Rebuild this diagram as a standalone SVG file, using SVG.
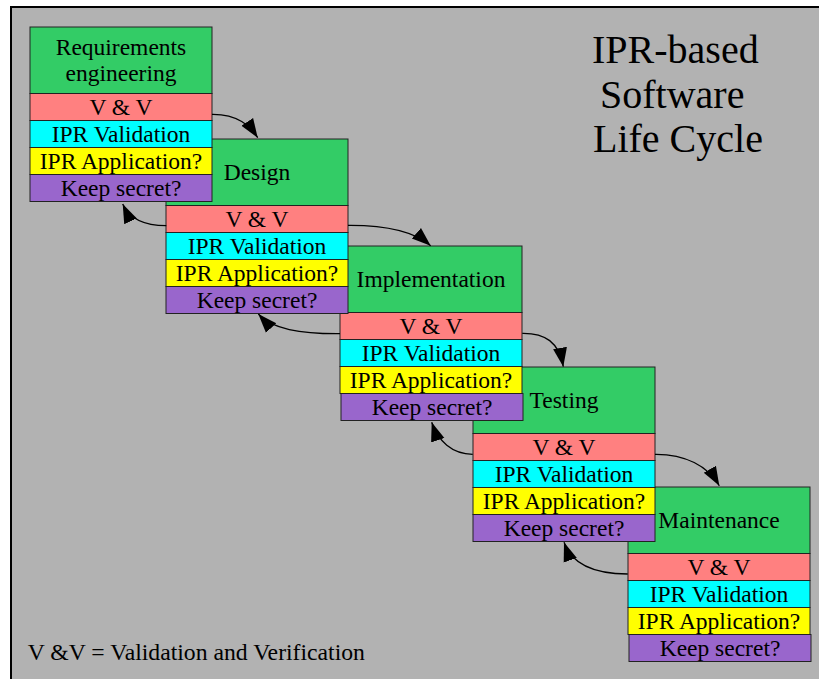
<svg xmlns="http://www.w3.org/2000/svg" width="819" height="679" viewBox="0 0 819 679">
<style>
  text { font-family: "Liberation Serif", "Times New Roman", serif; fill: #000; }
  .lbl { font-size: 23.5px; text-anchor: middle; }
  .title { font-size: 40px; }
  .note { font-size: 23.7px; }
  .box { stroke: #222; stroke-width: 1; }
  .g { fill: #33CC66; }
  .vv { fill: #FF8080; }
  .ipv { fill: #00FFFF; }
  .ipa { fill: #FFFF00; }
  .ks { fill: #9966CC; }
  .conn { fill: none; stroke: #000; stroke-width: 1.3; marker-end: url(#ah); }
</style>
<defs>
  <marker id="ah" markerUnits="userSpaceOnUse" markerWidth="20" markerHeight="16" viewBox="0 0 20 16" refX="19" refY="8" orient="auto">
    <path d="M0,1 L19,8 L0,15 Z" fill="#000"/>
  </marker>
</defs>
<rect x="0" y="0" width="819" height="679" fill="#fff"/>
<rect id="frame" x="11" y="7" width="830" height="700" fill="#B2B2B2" stroke="#000" stroke-width="2"/>

<g id="stage-maintenance" transform="translate(628,487)">
  <rect class="box g" x="0" y="0" width="182" height="66.5"/>
  <rect class="box vv" x="0" y="66.5" width="182" height="27"/>
  <rect class="box ipv" x="0" y="93.5" width="182" height="27"/>
  <rect class="box ipa" x="0" y="120.5" width="182" height="27"/>
  <rect class="box ks" x="1" y="147.5" width="182" height="27"/>
  <text class="lbl" x="91" y="40.5">Maintenance</text>
  <text class="lbl" x="91" y="87.5">V &amp; V</text>
  <text class="lbl" x="91" y="114.5">IPR Validation</text>
  <text class="lbl" x="91" y="141.5">IPR Application?</text>
  <text class="lbl" x="92" y="168.5">Keep secret?</text>
</g>

<g id="stage-testing" transform="translate(473,367)">
  <rect class="box g" x="0" y="0" width="182" height="66.5"/>
  <rect class="box vv" x="0" y="66.5" width="182" height="27"/>
  <rect class="box ipv" x="0" y="93.5" width="182" height="27"/>
  <rect class="box ipa" x="0" y="120.5" width="182" height="27"/>
  <rect class="box ks" x="0" y="147.5" width="182" height="27"/>
  <text class="lbl" x="91" y="40.5">Testing</text>
  <text class="lbl" x="91" y="87.5">V &amp; V</text>
  <text class="lbl" x="91" y="114.5">IPR Validation</text>
  <text class="lbl" x="91" y="141.5">IPR Application?</text>
  <text class="lbl" x="91" y="168.5">Keep secret?</text>
</g>

<g id="stage-implementation" transform="translate(340,246)">
  <rect class="box g" x="0" y="0" width="182" height="66.5"/>
  <rect class="box vv" x="0" y="66.5" width="182" height="27"/>
  <rect class="box ipv" x="0" y="93.5" width="182" height="27"/>
  <rect class="box ipa" x="0" y="120.5" width="182" height="27"/>
  <rect class="box ks" x="1" y="147.5" width="182" height="27"/>
  <text class="lbl" x="91" y="40.5">Implementation</text>
  <text class="lbl" x="91" y="87.5">V &amp; V</text>
  <text class="lbl" x="91" y="114.5">IPR Validation</text>
  <text class="lbl" x="91" y="141.5">IPR Application?</text>
  <text class="lbl" x="92" y="168.5">Keep secret?</text>
</g>

<g id="stage-design" transform="translate(166,139)">
  <rect class="box g" x="0" y="0" width="182" height="66.5"/>
  <rect class="box vv" x="0" y="66.5" width="182" height="27"/>
  <rect class="box ipv" x="0" y="93.5" width="182" height="27"/>
  <rect class="box ipa" x="0" y="120.5" width="182" height="27"/>
  <rect class="box ks" x="0" y="147.5" width="182" height="27"/>
  <text class="lbl" x="91" y="40.5">Design</text>
  <text class="lbl" x="91" y="87.5">V &amp; V</text>
  <text class="lbl" x="91" y="114.5">IPR Validation</text>
  <text class="lbl" x="91" y="141.5">IPR Application?</text>
  <text class="lbl" x="91" y="168.5">Keep secret?</text>
</g>

<g id="stage-requirements" transform="translate(30,27)">
  <rect class="box g" x="0" y="0" width="182" height="66.5"/>
  <rect class="box vv" x="0" y="66.5" width="182" height="27"/>
  <rect class="box ipv" x="0" y="93.5" width="182" height="27"/>
  <rect class="box ipa" x="0" y="120.5" width="182" height="27"/>
  <rect class="box ks" x="0" y="147.5" width="182" height="27"/>
  <text class="lbl" x="91" y="27.5">Requirements</text>
  <text class="lbl" x="91" y="54">engineering</text>
  <text class="lbl" x="91" y="87.5">V &amp; V</text>
  <text class="lbl" x="91" y="114.5">IPR Validation</text>
  <text class="lbl" x="91" y="141.5">IPR Application?</text>
  <text class="lbl" x="91" y="168.5">Keep secret?</text>
</g>

<g id="connectors">
  <path class="conn" d="M212,114.3 C238,114 250,126 257.7,137.7"/>
  <path class="conn" d="M348,225.3 C390,225 415,232 430.7,245.7"/>
  <path class="conn" d="M522.3,333.3 C545,333 559,342 563.3,366.7"/>
  <path class="conn" d="M655,454.3 C685,454 708,466 719.3,485.7"/>
  <path class="conn" d="M166.3,225.7 C145,225.7 130,220 122.7,204"/>
  <path class="conn" d="M340,333.7 C300,334 272,329 258.3,314"/>
  <path class="conn" d="M472.7,454.3 C452,454 438,441 431.7,422.3"/>
  <path class="conn" d="M627.7,574 C595,574 572,565 564,542.3"/>
</g>

<g id="title">
  <text class="title" x="592" y="62.7">IPR-based</text>
  <text class="title" x="600" y="107.5">Software</text>
  <text class="title" x="593" y="151.7">Life Cycle</text>
</g>
<text id="note" class="note" x="27.7" y="659.5">V &amp;V = Validation and Verification</text>
</svg>
